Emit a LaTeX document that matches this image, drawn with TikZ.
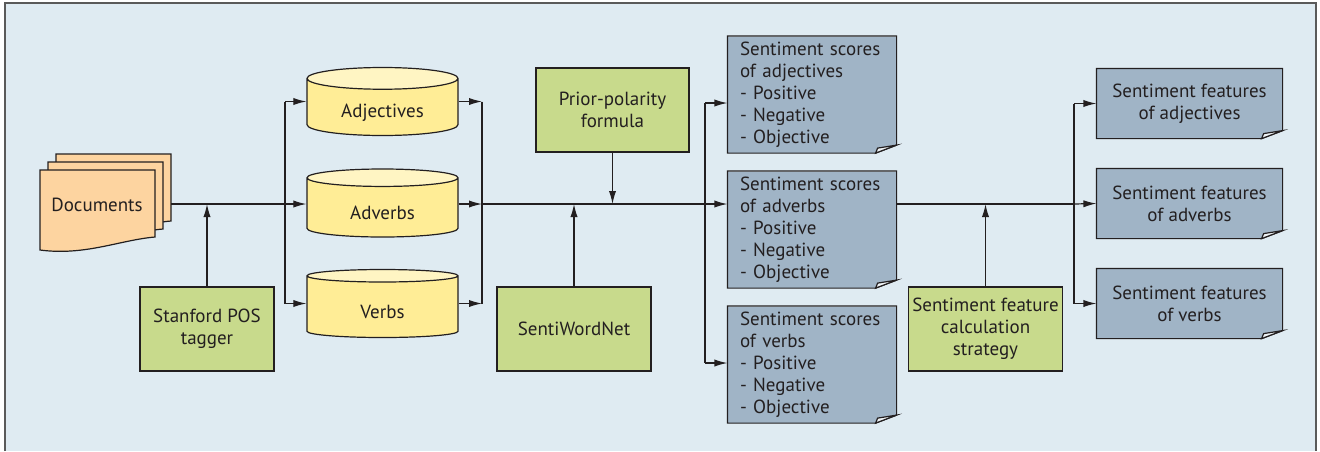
\documentclass[tikz,border=0pt]{standalone}
\usepackage{fontspec}
\setmainfont{PT Sans}
\usetikzlibrary{shapes.geometric, arrows.meta}
\definecolor{bgblue}{RGB}{223,235,242}
\definecolor{framegray}{RGB}{90,90,90}
\definecolor{linecol}{RGB}{35,31,32}
\definecolor{docorange}{RGB}{253,212,160}
\definecolor{dbyellow}{RGB}{255,237,150}
\definecolor{dbtop}{RGB}{255,245,195}
\definecolor{procgreen}{RGB}{200,218,140}
\definecolor{notegray}{RGB}{160,180,198}
\definecolor{foldwhite}{RGB}{240,244,246}
\tikzset{
    base/.style={draw=linecol, line width=0.6pt, rectangle, align=center, text=linecol, font=\fontsize{9.5}{11}\selectfont, inner sep=2pt},
    proc/.style={base, fill=procgreen, minimum width=76.5pt, minimum height=42pt},
    db/.style={base, cylinder, shape border rotate=90, aspect=0.24, cylinder uses custom fill, cylinder body fill=dbyellow, cylinder end fill=dbtop, minimum width=75.5pt, minimum height=34pt, anchor=shape center},
    note/.style={base, draw=none, fill=notegray},
    score/.style={note, minimum width=84pt, minimum height=58pt, text width=72pt, inner xsep=0pt, align=left},
    feat/.style={note, minimum width=92.5pt, minimum height=34.5pt},
    arrow/.style={-{Latex[length=6.5pt, width=3.6pt]}, line width=0.6pt, draw=linecol},
    link/.style={line width=0.6pt, draw=linecol}
}

\begin{document}
\begin{tikzpicture}[x=0.5pt, y=-0.5pt]
\useasboundingbox (0,0) rectangle (1320,451);
\fill[bgblue] (5,3) rectangle (1316,451);
\draw[framegray, line width=0.8pt] (5,451) -- (5,3) -- (1316,3) -- (1316,451);

% document stack
\foreach \dx in {16,8,0}{
  \draw[link, fill=docorange] (40+\dx,170-\dx) -- (155+\dx,170-\dx) -- (155+\dx,237-\dx)
    .. controls (120+\dx,240-\dx) and (85+\dx,256-\dx) .. (40+\dx,250-\dx) -- cycle;
}
\node[font=\fontsize{9.5}{11}\selectfont, text=linecol] (doc) at (97,205) {Documents};
\coordinate (docr) at (171,204);

% nodes
\node[proc, minimum width=67pt] (tag) at (207,329) {Stanford POS\\tagger};
\node[db] (adj) at (382.5,101.5) {\raisebox{-2pt}[\height][\depth]{Adjectives}};
\node[db] (adv) at (382.5,203) {\raisebox{-2pt}[\height][\depth]{Adverbs}};
\node[db] (vrb) at (382.5,303.5) {\raisebox{-2pt}[\height][\depth]{Verbs}};
\node[proc] (ppf) at (612.5,110) {Prior-polarity\\formula};
\node[proc, minimum width=77pt] (swn) at (574,329) {SentiWordNet};
\node[score] (sadj) at (812,94.5) {Sentiment scores\\of adjectives\\- Positive\\- Negative\\- Objective};
\node[score] (sadv) at (812,229.5) {Sentiment scores\\of adverbs\\- Positive\\- Negative\\- Objective};
\node[score] (svrb) at (812,364.5) {Sentiment scores\\of verbs\\- Positive\\- Negative\\- Objective};
\node[proc] (calc) at (985.5,329) {Sentiment feature\\calculation\\strategy};
\node[feat] (fadj) at (1189.5,103.5) {Sentiment features\\of adjectives};
\node[feat] (fadv) at (1189.5,203.5) {Sentiment features\\of adverbs};
\node[feat] (fvrb) at (1189.5,303.5) {Sentiment features\\of verbs};

% folded corners
\foreach \n in {sadj,sadv,svrb,fadj,fadv,fvrb}{
  \fill[bgblue] ([yshift=4pt]\n.south east) -- (\n.south east) -- ([xshift=-10.5pt]\n.south east) -- cycle;
  \draw[link] (\n.north west) -- (\n.north east) -- ([yshift=4pt]\n.south east)
    -- ([xshift=-10.5pt]\n.south east) -- (\n.south west) -- cycle;
  \draw[link, fill=foldwhite] ([yshift=4pt]\n.south east) -- ([xshift=-10.5pt]\n.south east)
    -- ([xshift=-9.5pt, yshift=2.5pt]\n.south east) -- cycle;
}

% branch points
\coordinate (s1) at (285,204);
\coordinate (m1) at (482,204);
\coordinate (s2) at (705,204);
\coordinate (s2a) at (705,103);
\coordinate (s2c) at (705,363);
\coordinate (s3) at (1074,204);

% connectors
\draw[link] (docr) -- (s1);
\draw[arrow] (tag.north) -- (tag.north |- docr);
\draw[link] (s1 |- adj.shape center) -- (s1 |- vrb.shape center);
\draw[arrow] (s1 |- adj.shape center) -- (adj.shape center -| adj.west);
\draw[arrow] (s1) -- (s1 -| adv.west);
\draw[arrow] (s1 |- vrb.shape center) -- (vrb.shape center -| vrb.west);
\draw[arrow] (adj.shape center -| adj.east) -- (m1 |- adj.shape center);
\draw[arrow] (m1 -| adv.east) -- (m1);
\draw[arrow] (vrb.shape center -| vrb.east) -- (m1 |- vrb.shape center);
\draw[link] (m1 |- adj.shape center) -- (m1 |- vrb.shape center);
\draw[link] (m1) -- (s2);
\draw[arrow] (ppf.south) -- (ppf.south |- m1);
\draw[arrow] (swn.north) -- (swn.north |- m1);
\draw[link] (s2a) -- (s2c);
\draw[arrow] (s2a) -- (s2a -| sadj.west);
\draw[arrow] (s2) -- (s2 -| sadv.west);
\draw[arrow] (s2c) -- (s2c -| svrb.west);
\draw[link] (s2 -| sadv.east) -- (s3);
\draw[arrow] (calc.north) -- (calc.north |- s3);
\draw[link] (s3 |- fadj.west) -- (s3 |- fvrb.west);
\draw[arrow] (s3 |- fadj.west) -- (fadj.west);
\draw[arrow] (s3) -- (fadv.west);
\draw[arrow] (s3 |- fvrb.west) -- (fvrb.west);
\end{tikzpicture}
\end{document}
